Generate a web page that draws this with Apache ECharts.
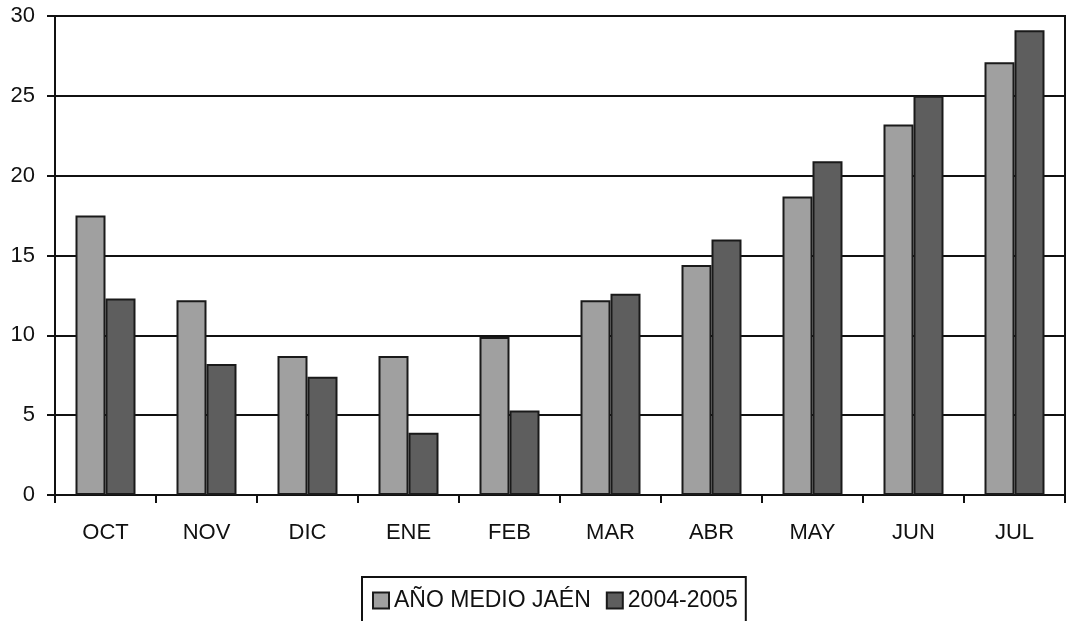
<!DOCTYPE html>
<html>
<head>
<meta charset="utf-8">
<script src="https://cdn.jsdelivr.net/npm/echarts@6/dist/echarts.min.js"></script>
<style>
html,body{margin:0;padding:0;background:#fff;}
#c{width:1068px;height:621px;}
</style>
</head>
<body>
<div id="c"></div>
<script>
const categories = ['OCT','NOV','DIC','ENE','FEB','MAR','ABR','MAY','JUN','JUL'];
const seriesNames = ['AÑO MEDIO JAÉN','2004-2005'];
const medio = [17.5, 12.2, 8.7, 8.7, 9.9, 12.2, 14.4, 18.7, 23.2, 27.1];
const temporada = [12.3, 8.2, 7.4, 3.9, 5.3, 12.6, 16.0, 20.9, 25.0, 29.1];
const yTicks = {min: 0, max: 30, interval: 5};

const FONT = '"Liberation Sans", Arial, sans-serif';
const chart = echarts.init(document.getElementById('c'), null, {renderer: 'canvas'});
chart.setOption({
  backgroundColor: '#ffffff',
  animation: false,
  grid: {
    left: 55, right: 3, top: 16, bottom: 126,
    show: true, borderColor: '#111', borderWidth: 2, backgroundColor: 'transparent'
  },
  legend: {
    left: 362, top: 577,
    icon: 'rect',
    itemWidth: 16, itemHeight: 16, itemGap: 15,
    padding: [12, 8, 20, 10],
    borderColor: '#111', borderWidth: 2,
    textStyle: {fontFamily: FONT, fontSize: 23, color: '#111'},
    data: seriesNames
  },
  xAxis: {
    type: 'category',
    data: categories,
    boundaryGap: true,
    axisLine: {show: true, lineStyle: {color: '#111', width: 2}},
    axisTick: {show: true, length: 8, lineStyle: {color: '#111', width: 2}},
    axisLabel: {fontFamily: FONT, fontSize: 22, color: '#111', margin: 27},
    splitLine: {show: false}
  },
  yAxis: {
    type: 'value',
    min: yTicks.min, max: yTicks.max, interval: yTicks.interval,
    axisLine: {show: true, lineStyle: {color: '#111', width: 2}},
    axisTick: {show: true, length: 8, lineStyle: {color: '#111', width: 2}},
    axisLabel: {fontFamily: FONT, fontSize: 22, color: '#111', margin: 20},
    splitLine: {show: true, lineStyle: {color: '#111', width: 2}}
  },
  series: [
    {
      name: seriesNames[0], type: 'bar', data: medio,
      barWidth: 30, barGap: '0%',
      itemStyle: {color: '#a0a0a0', borderColor: '#1a1a1a', borderWidth: 2}
    },
    {
      name: seriesNames[1], type: 'bar', data: temporada,
      barWidth: 30, barGap: '0%',
      itemStyle: {color: '#5e5e5e', borderColor: '#1a1a1a', borderWidth: 2}
    }
  ]
});
</script>
</body>
</html>
